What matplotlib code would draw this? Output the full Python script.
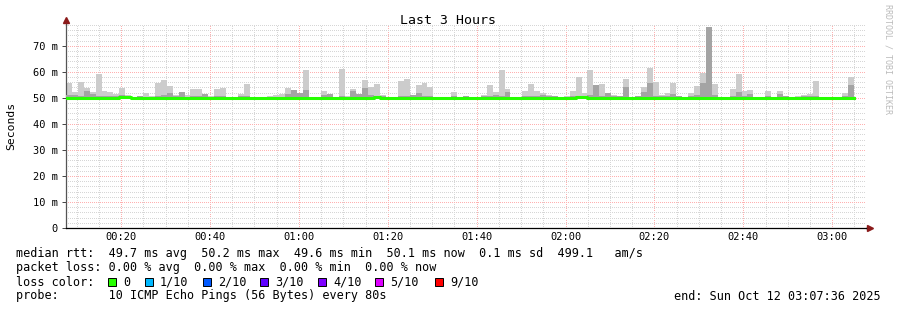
import numpy as np
import pandas as pd
import matplotlib
matplotlib.use('Agg')
import matplotlib.pyplot as plt
import matplotlib.dates as mdates
from matplotlib.patches import Rectangle
from matplotlib.ticker import MultipleLocator, FuncFormatter

plt.rcParams['font.family'] = 'DejaVu Sans Mono'

start = pd.Timestamp('2025-10-12 00:07:36')
end = pd.Timestamp('2025-10-12 03:07:36')
step_s = 80

# smoke: top of light band (max ping) and of the darker band, in ms
max_ms = [55.9, 52.3, 56.2, 53.8, 52.3, 59.2, 52.7, 52.3, 51.5, 53.8, 51.2, 50.4, 50.8, 51.9, 50.8, 55.8,
          56.9, 54.6, 51.2, 52.3, 51.2, 53.5, 53.5,
          50.8, 50.8, 53.5, 53.8, 50.4, 50.3, 51.5, 55.4, 50.4, 50.3, 50.4, 50.8, 51.2, 51.5, 53.8, 53.1,
          51.9, 60.8, 50.4, 50.4, 52.7, 51.5,
          50.4, 61.2, 50.8, 53.5, 51.5, 57.0, 54.2, 55.4, 51.2, 50.3, 50.3, 56.6, 57.4, 51.2, 55.0, 55.8,
          54.2, 50.3, 50.3, 50.4, 52.3, 50.3,
          50.8, 50.3, 50.4, 51.2, 55.0, 52.3, 60.8, 53.5, 50.3, 50.4, 52.7, 55.4, 52.7, 51.9, 51.2, 50.8,
          50.3, 50.8, 52.7, 58.1, 51.9, 60.8, 55.0,
          55.4, 51.9, 51.2, 50.8, 57.4, 50.3, 50.8, 54.2, 61.5, 56.2, 51.2, 51.9, 55.8, 50.8, 50.4, 51.9,
          54.6, 59.6, 77.4, 55.4, 50.3, 50.4, 53.5,
          59.2, 52.7, 53.1, 50.3, 50.3, 52.7, 50.4, 52.7, 50.8, 50.3, 50.8, 51.2, 51.5, 56.6, 50.3, 50.3,
          50.3, 50.3, 51.9, 58.1]
mid_ms = [51.0, 51.0, 50.8, 52.7, 51.3, 50.8, 50.6, 50.6, 50.6, 51.0, 50.6, 0, 50.6, 0, 0, 50.6,
          51.0, 52.0, 50.6, 52.3, 0, 50.8, 50.8,
          51.5, 0, 50.6, 50.6, 0, 0, 50.8, 50.6, 0, 0, 0, 0, 0, 0, 51.5, 53.1,
          51.9, 53.1, 0, 0, 51.2, 51.5,
          0, 50.6, 50.4, 52.7, 51.5, 53.8, 51.0, 50.8, 50.6, 0, 0, 50.6, 50.6, 51.2, 51.9, 50.8,
          50.6, 0, 0, 0, 50.6, 0,
          50.6, 0, 0, 50.6, 50.6, 51.0, 50.8, 52.3, 0, 0, 50.6, 50.8, 50.8, 51.0, 50.8, 50.6,
          0, 0, 50.6, 50.6, 50.8, 51.0, 55.0,
          50.8, 51.9, 50.6, 50.6, 54.2, 0, 50.6, 52.3, 55.8, 50.8, 50.8, 50.8, 51.5, 50.6, 0, 50.8,
          51.0, 55.8, 77.4, 51.2, 0, 0, 50.8,
          52.3, 50.8, 51.5, 0, 0, 50.6, 0, 51.5, 50.6, 0, 0, 50.6, 50.6, 50.6, 0, 0,
          0, 0, 50.6, 55.0]
median_ms = [49.8, 49.8, 49.8, 49.8, 49.8, 49.8, 49.8, 49.8, 49.8, 50.2, 50.2, 49.8, 49.8, 49.8, 49.8, 49.8,
             49.8, 49.8, 49.8, 49.8, 49.8, 49.8, 49.8,
             49.8, 49.8, 49.8, 49.8, 49.8, 49.8, 49.8, 49.8, 49.8, 49.8, 49.8, 49.8, 49.8, 49.8, 49.8, 49.8,
             49.8, 49.8, 49.8, 49.8, 49.8, 49.8,
             49.8, 49.8, 49.8, 49.8, 49.8, 49.8, 49.8, 50.2, 49.8, 49.8, 49.8, 49.8, 49.8, 49.8, 49.8, 49.8,
             49.8, 49.8, 49.8, 49.8, 49.8, 49.8,
             49.8, 49.8, 49.8, 49.8, 49.8, 49.8, 49.8, 49.8, 49.8, 49.8, 49.8, 49.8, 49.8, 49.8, 49.8, 49.8,
             49.8, 49.8, 49.8, 50.4, 50.4, 49.8, 49.8,
             49.8, 49.8, 49.8, 49.8, 49.8, 49.8, 49.8, 49.8, 49.8, 49.8, 49.8, 49.8, 49.8, 49.8, 50.1, 49.8,
             49.8, 49.8, 49.8, 49.8, 49.8, 49.8, 49.8,
             49.8, 49.8, 49.8, 49.8, 49.8, 49.8, 49.8, 49.8, 49.8, 49.8, 49.8, 49.8, 50.1, 49.8, 49.8, 49.8,
             49.8, 49.8, 49.8, 50.1]

loss_labels = ['0', '1/10', '2/10', '3/10', '4/10', '5/10', '9/10']
loss_colors = ['#26ff00', '#00b8ff', '#0059ff', '#5e00ff', '#7e00ff', '#dd00ff', '#ff0000']

stats_line = 'median rtt:  49.7 ms avg  50.2 ms max  49.6 ms min  50.1 ms now  0.1 ms sd  499.1   am/s'
loss_line = 'packet loss: 0.00 % avg  0.00 % max  0.00 % min  0.00 % now'
probe_line = 'probe:       10 ICMP Echo Pings (56 Bytes) every 80s'
end_line = 'end: Sun Oct 12 03:07:36 2025'

W, H = 897, 310
fig = plt.figure(figsize=(W / 100, H / 100), dpi=100)
ax = fig.add_axes([66 / W, 82 / H, 800 / W, 203 / H])

times = start + pd.to_timedelta(np.arange(len(max_ms)) * step_s, unit='s')
x = mdates.date2num(times)
bw = step_s / 86400.0
med = np.array(median_ms)
top = np.array(max_ms)
mid = np.array(mid_ms)
mid = np.where(mid > 0, mid, med)

ax.bar(x, top - med, bottom=med, width=bw, align='edge', color='#cccccc', linewidth=0, zorder=2)
ax.bar(x, mid - med, bottom=med, width=bw, align='edge', color='#a4a4a4', linewidth=0, zorder=3)
ax.step(np.append(x, x[-1] + bw), np.append(med, med[-1]), where='post',
        color='#26ff00', linewidth=2.2, zorder=4)

ax.set_xlim(mdates.date2num(start), mdates.date2num(end))
ax.set_ylim(0, 78)
ax.xaxis.set_major_locator(mdates.MinuteLocator(byminute=[0, 20, 40]))
ax.xaxis.set_minor_locator(mdates.MinuteLocator(byminute=range(0, 60, 5)))
ax.xaxis.set_major_formatter(mdates.DateFormatter('%H:%M'))
ax.yaxis.set_major_locator(MultipleLocator(10))
ax.yaxis.set_minor_locator(MultipleLocator(2))
ax.yaxis.set_major_formatter(FuncFormatter(lambda v, p: '0' if v == 0 else f'{v:.0f} m'))

ax.set_axisbelow(True)
ax.grid(which='minor', color='#d6d6d6', linestyle=(0, (1, 1.5)), linewidth=0.72, antialiased=False)
ax.grid(which='major', color='#ffb0b0', linestyle=(0, (1, 1.5)), linewidth=0.72, antialiased=False)
ax.tick_params(which='both', labelsize=7.5, length=0)
ax.tick_params(axis='y', which='major', length=3, width=0.7, color='#444444', pad=3)
ax.tick_params(axis='x', which='major', pad=3)
for s in ['top', 'right']:
    ax.spines[s].set_visible(False)
ax.spines['left'].set_color('#555555')
ax.spines['left'].set_linewidth(0.9)
ax.spines['bottom'].set_color('black')
ax.spines['bottom'].set_linewidth(0.9)

# axis arrows
ax.plot([0, 0], [1, 1.02], transform=ax.transAxes, color='#555555', lw=0.9, clip_on=False)
ax.plot([1, 1.004], [0, 0], transform=ax.transAxes, color='black', lw=0.9, clip_on=False)
ax.plot([0], [1.025], transform=ax.transAxes, marker='^', color='#8b1a1a', markersize=4, clip_on=False)
ax.plot([1.005], [0], transform=ax.transAxes, marker='>', color='#8b1a1a', markersize=4, clip_on=False)

fig.text(448 / W, 1 - 20 / H, 'Last 3 Hours', ha='center', va='center', fontsize=9.5)
fig.text(11 / W, 1 - 126 / H, 'Seconds', rotation=90, ha='center', va='center', fontsize=8.2)
fig.text(888 / W, 1 - 4 / H, 'RRDTOOL / TOBI OETIKER', rotation=270, ha='center', va='top',
         fontsize=6, color='#bbbbbb')

fs = 8.5
fig.text(16 / W, 1 - 254 / H, stats_line, va='center', fontsize=fs)
fig.text(16 / W, 1 - 268 / H, loss_line, va='center', fontsize=fs)
fig.text(16 / W, 1 - 282 / H, 'loss color:', va='center', fontsize=fs)
fig.text(16 / W, 1 - 296 / H, probe_line, va='center', fontsize=fs)
fig.text(881 / W, 1 - 296 / H, end_line, ha='right', va='center', fontsize=fs)

label_x = [123, 160, 218, 275, 333, 390, 450]
for lx, lab, col in zip(label_x, loss_labels, loss_colors):
    fig.patches.append(Rectangle(((lx - 15) / W, 1 - 286 / H), 8 / W, 8 / H, transform=fig.transFigure,
                                 facecolor=col, edgecolor='black', linewidth=0.7))
    fig.text(lx / W, 1 - 282 / H, lab, va='center', fontsize=fs)

fig.savefig('out.png', dpi=100)
